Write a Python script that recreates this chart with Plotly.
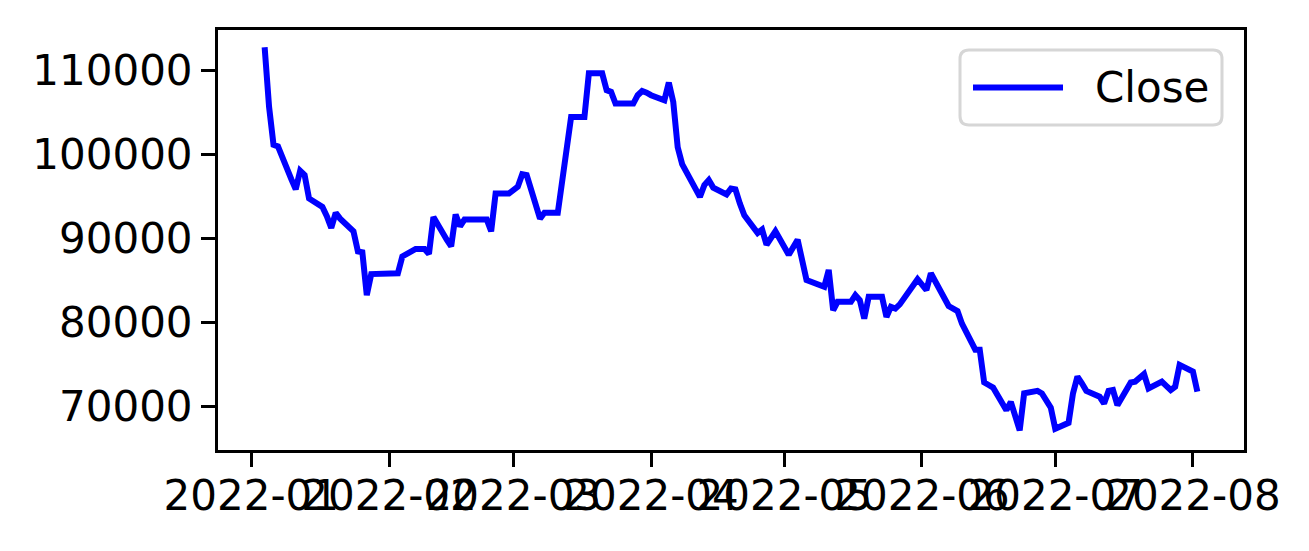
import plotly.graph_objects as go

dates = [
    "2022-01-04", "2022-01-05", "2022-01-06", "2022-01-07", "2022-01-10", "2022-01-11",
    "2022-01-12", "2022-01-13", "2022-01-14", "2022-01-17", "2022-01-18", "2022-01-19",
    "2022-01-20", "2022-01-21", "2022-01-24", "2022-01-25", "2022-01-26", "2022-01-27",
    "2022-01-28", "2022-02-03", "2022-02-04", "2022-02-07", "2022-02-08", "2022-02-09",
    "2022-02-10", "2022-02-11", "2022-02-14", "2022-02-15", "2022-02-16", "2022-02-17",
    "2022-02-18", "2022-02-21", "2022-02-22", "2022-02-23", "2022-02-24", "2022-02-25",
    "2022-02-28", "2022-03-02", "2022-03-03", "2022-03-04", "2022-03-07", "2022-03-08",
    "2022-03-10", "2022-03-11", "2022-03-14", "2022-03-15", "2022-03-16", "2022-03-17",
    "2022-03-18", "2022-03-21", "2022-03-22", "2022-03-23", "2022-03-24", "2022-03-25",
    "2022-03-28", "2022-03-29", "2022-03-30", "2022-03-31", "2022-04-01", "2022-04-04",
    "2022-04-05", "2022-04-06", "2022-04-07", "2022-04-08", "2022-04-11", "2022-04-12",
    "2022-04-13", "2022-04-14", "2022-04-15", "2022-04-18", "2022-04-19", "2022-04-20",
    "2022-04-21", "2022-04-22", "2022-04-25", "2022-04-26", "2022-04-27", "2022-04-28",
    "2022-04-29", "2022-05-02", "2022-05-03", "2022-05-04", "2022-05-06", "2022-05-09",
    "2022-05-10", "2022-05-11", "2022-05-12", "2022-05-13", "2022-05-16", "2022-05-17",
    "2022-05-18", "2022-05-19", "2022-05-20", "2022-05-23", "2022-05-24", "2022-05-25",
    "2022-05-26", "2022-05-27", "2022-05-30", "2022-05-31", "2022-06-02", "2022-06-03",
    "2022-06-07", "2022-06-08", "2022-06-09", "2022-06-10", "2022-06-13", "2022-06-14",
    "2022-06-15", "2022-06-16", "2022-06-17", "2022-06-20", "2022-06-21", "2022-06-22",
    "2022-06-23", "2022-06-24", "2022-06-27", "2022-06-28", "2022-06-29", "2022-06-30",
    "2022-07-01", "2022-07-04", "2022-07-05", "2022-07-06", "2022-07-07", "2022-07-08",
    "2022-07-11", "2022-07-12", "2022-07-13", "2022-07-14", "2022-07-15", "2022-07-18",
    "2022-07-19", "2022-07-20", "2022-07-21", "2022-07-22", "2022-07-25", "2022-07-26",
    "2022-07-27", "2022-07-28", "2022-07-29", "2022-08-01", "2022-08-02",
]

close = [
    112700, 105600, 101100, 100900, 97000, 95800,
    98000, 97500, 94700, 93700, 92600, 91200,
    93000, 92300, 90800, 88400, 88300, 83200,
    85700, 85800, 87800, 88700, 88700, 88700,
    88100, 92500, 89800, 89000, 92800, 91400,
    92200, 92200, 92200, 92200, 90800, 95300,
    95300, 96100, 97600, 97500, 92300, 93000,
    93000, 93000, 104400, 104400, 104400, 104400,
    109600, 109600, 107600, 107400, 106000, 106000,
    106000, 107000, 107500, 107300, 107000, 106400,
    108500, 106200, 100800, 98800, 95700, 94900,
    96300, 96900, 96000, 95200, 95900, 95800,
    94100, 92700, 90600, 91000, 89200, 89900,
    90800, 88000, 89000, 89800, 85000, 84400,
    84200, 86200, 81400, 82400, 82400, 83200,
    82600, 80400, 83000, 83000, 80600, 81800,
    81600, 82100, 84500, 85100, 83800, 85800,
    81900, 81500, 81300, 79800, 76700, 76700,
    72800, 72500, 72200, 69500, 70500, 68800,
    67100, 71500, 71800, 71500, 70700, 69800,
    67300, 68000, 71500, 73500, 72700, 71800,
    71100, 70300, 71800, 71900, 70100, 72800,
    72900, 73300, 73800, 72100, 72900, 72400,
    71900, 72300, 74900, 74100, 71700,
]

series_name = "Close"
x_range = ["2021-12-24 12:00", "2022-08-12 12:00"]
y_range = [64762, 114762]
y_ticks = [70000, 80000, 90000, 100000, 110000]

FONT = "DejaVu Sans"
FS = 42
W, H = 1309, 551
L, R, T, B = 218, 65, 30, 101
PW, PH = W - L - R, H - T - B


def px_x(px):
    return (px - L) / PW


def px_y(py):
    return (H - B - py) / PH


fig = go.Figure()
fig.add_trace(go.Scatter(
    x=dates, y=close, mode="lines", name=series_name,
    line=dict(color="#0000ff", width=6),
    showlegend=False,
))

# legend box (matplotlib-style: rounded, light grey frame, long line sample)
x0, x1, y0, y1, r = 960, 1222, 50, 125, 9
path = (
    f"M {px_x(x0 + r)},{px_y(y0)} L {px_x(x1 - r)},{px_y(y0)} "
    f"Q {px_x(x1)},{px_y(y0)} {px_x(x1)},{px_y(y0 + r)} "
    f"L {px_x(x1)},{px_y(y1 - r)} "
    f"Q {px_x(x1)},{px_y(y1)} {px_x(x1 - r)},{px_y(y1)} "
    f"L {px_x(x0 + r)},{px_y(y1)} "
    f"Q {px_x(x0)},{px_y(y1)} {px_x(x0)},{px_y(y1 - r)} "
    f"L {px_x(x0)},{px_y(y0 + r)} "
    f"Q {px_x(x0)},{px_y(y0)} {px_x(x0 + r)},{px_y(y0)} Z"
)
fig.add_shape(type="path", xref="paper", yref="paper", path=path,
              fillcolor="rgba(255,255,255,0.8)", line=dict(color="#d6d6d6", width=3))
fig.add_shape(type="line", xref="paper", yref="paper",
              x0=px_x(973), x1=px_x(1063), y0=px_y(87.5), y1=px_y(87.5),
              line=dict(color="#0000ff", width=6))
fig.add_annotation(xref="paper", yref="paper", x=px_x(1093), y=px_y(87.5),
                   xanchor="left", yanchor="middle", showarrow=False,
                   text=series_name, font=dict(family=FONT, size=FS, color="black"))

fig.update_layout(
    width=W, height=H,
    margin=dict(l=L, r=R, t=T, b=B),
    paper_bgcolor="white", plot_bgcolor="white",
    font=dict(family=FONT, size=FS, color="black"),
    showlegend=False,
)

fig.update_xaxes(
    type="date", range=x_range,
    tick0="2022-01-01", dtick="M1", tickformat="%Y-%m",
    tickangle=0,
    showgrid=False, zeroline=False,
    showline=True, linecolor="black", linewidth=3, mirror=True,
    ticks="outside", ticklen=14, tickwidth=3, tickcolor="black",
    tickfont=dict(family=FONT, size=FS, color="black"),
    ticklabelstandoff=-7,
)
fig.update_yaxes(
    range=y_range, tickvals=y_ticks,
    showgrid=False, zeroline=False,
    showline=True, linecolor="black", linewidth=3, mirror=True,
    ticks="outside", ticklen=14, tickwidth=3, tickcolor="black",
    tickfont=dict(family=FONT, size=FS, color="black"),
    tickformat="d",
)

fig.write_html("out.html", post_script="document.body.style.margin='0';",
               config={"displayModeBar": False})
